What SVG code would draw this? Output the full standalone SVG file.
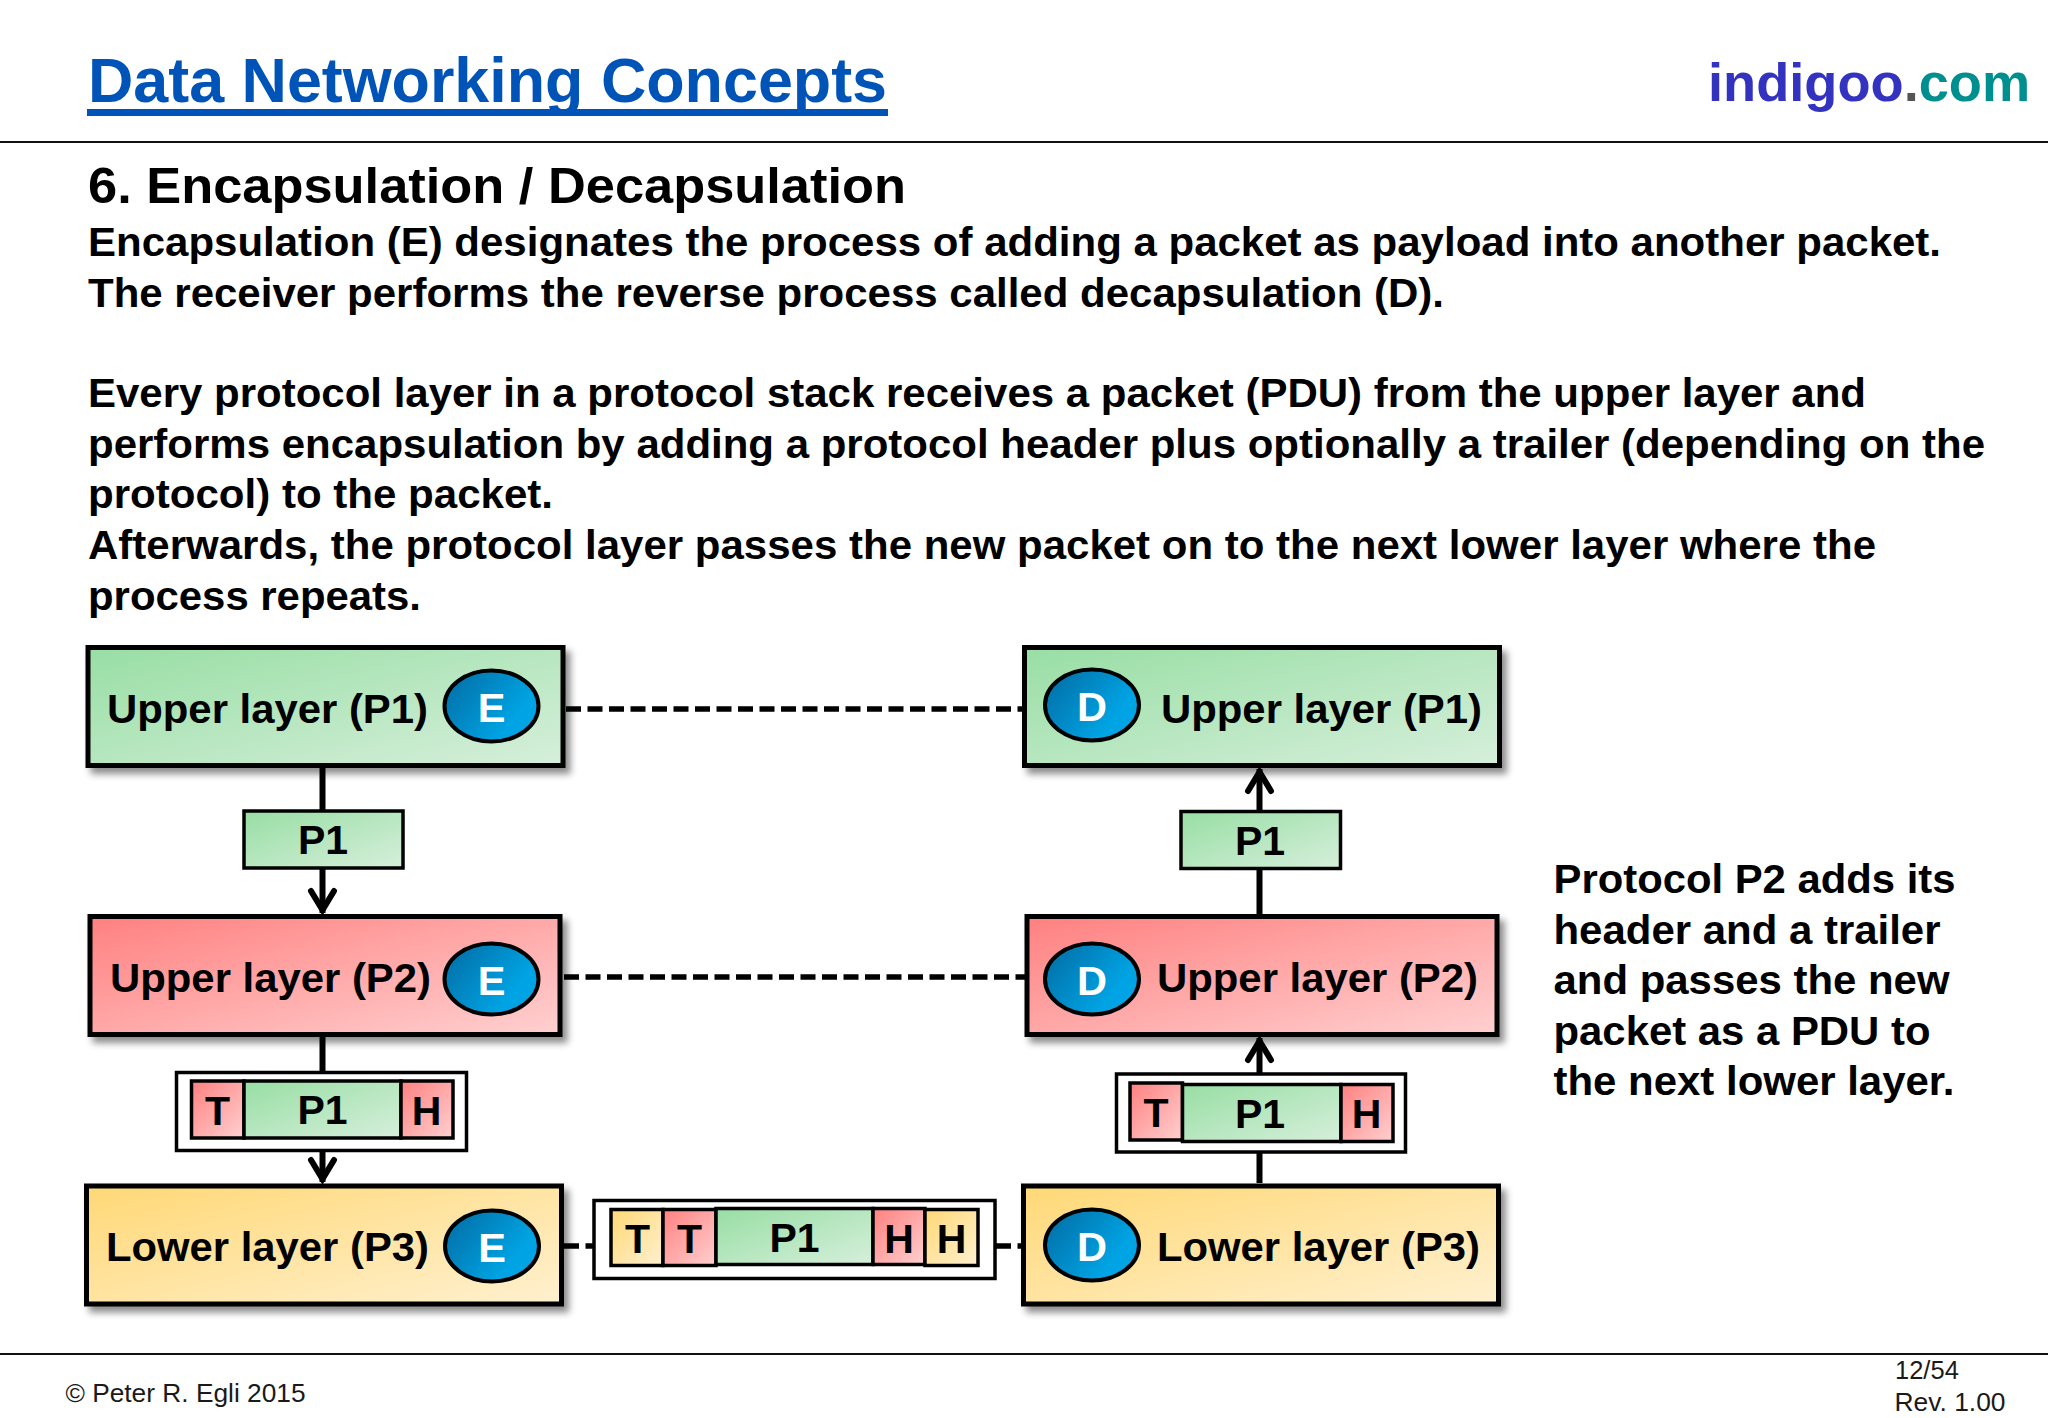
<svg xmlns="http://www.w3.org/2000/svg" width="2048" height="1418" viewBox="0 0 2048 1418">
<style>
text{font-family:"Liberation Sans",Arial,sans-serif;font-weight:700;fill:#000}
.body{font-size:41.5px}
.lay{font-size:41.5px}
.op{font-size:41.5px;fill:#fff;text-anchor:middle}
.pk{font-size:41px;text-anchor:middle}
.box{stroke:#000;stroke-width:5;filter:url(#sh)}
.sm{stroke:#000;stroke-width:3.5}
.out{fill:#fff;stroke:#000;stroke-width:3.5}
.circ{fill:url(#blue);stroke:#000;stroke-width:4}
.con{stroke:#000;stroke-width:6;fill:none}
.dash{stroke:#000;stroke-width:5.5;fill:none;stroke-dasharray:15 6.5}
.foot{font-weight:400;font-size:25.5px;fill:#1a1a1a}
</style>
<defs>
<linearGradient id="g" x1="0" y1="0" x2="1" y2="1"><stop offset="0" stop-color="#98dea4"/><stop offset="1" stop-color="#d6efdb"/></linearGradient>
<linearGradient id="r" x1="0" y1="0" x2="1" y2="1"><stop offset="0" stop-color="#ff8080"/><stop offset="1" stop-color="#ffd0d0"/></linearGradient>
<linearGradient id="y" x1="0" y1="0" x2="1" y2="1"><stop offset="0" stop-color="#ffd876"/><stop offset="1" stop-color="#fff0cf"/></linearGradient>
<linearGradient id="blue" x1="0" y1="0.2" x2="1" y2="0.8"><stop offset="0" stop-color="#0270a8"/><stop offset="0.75" stop-color="#00a3e3"/></linearGradient>
<filter id="sh" x="-5%" y="-10%" width="112%" height="125%"><feDropShadow dx="5" dy="6" stdDeviation="3.5" flood-color="#000" flood-opacity="0.45"/></filter>
<marker id="ah" markerUnits="userSpaceOnUse" viewBox="-30 -18 32 36" refX="0" refY="0" markerWidth="32" markerHeight="36" orient="auto"><path d="M-22 -11.5L-3 0L-22 11.5" fill="none" stroke="#000" stroke-width="6" stroke-linecap="round"/></marker>
</defs>
<rect width="2048" height="1418" fill="#fff"/>

<g id="header">
<text x="88" y="102" font-size="63" style="fill:#0054b8" textLength="799" lengthAdjust="spacingAndGlyphs">Data Networking Concepts</text>
<rect x="87" y="109" width="801" height="7" fill="#0054b8"/>
<text x="1708" y="101" font-size="54.2" style="fill:#3333c0">indigoo<tspan style="fill:#555">.</tspan><tspan style="fill:#008f8f">com</tspan></text>
<line x1="0" y1="142" x2="2048" y2="142" stroke="#111" stroke-width="2"/>
</g>

<g id="body-text">
<text x="88" y="203" font-size="50.5" textLength="818" lengthAdjust="spacingAndGlyphs">6. Encapsulation / Decapsulation</text>
<text class="body" x="88" y="256" textLength="1853" lengthAdjust="spacingAndGlyphs">Encapsulation (E) designates the process of adding a packet as payload into another packet.</text>
<text class="body" x="88" y="307" textLength="1356" lengthAdjust="spacingAndGlyphs">The receiver performs the reverse process called decapsulation (D).</text>
<text class="body" x="88" y="407" textLength="1778" lengthAdjust="spacingAndGlyphs">Every protocol layer in a protocol stack receives a packet (PDU) from the upper layer and</text>
<text class="body" x="88" y="458" textLength="1897" lengthAdjust="spacingAndGlyphs">performs encapsulation by adding a protocol header plus optionally a trailer (depending on the</text>
<text class="body" x="88" y="508" textLength="465" lengthAdjust="spacingAndGlyphs">protocol) to the packet.</text>
<text class="body" x="88" y="559" textLength="1788" lengthAdjust="spacingAndGlyphs">Afterwards, the protocol layer passes the new packet on to the next lower layer where the</text>
<text class="body" x="88" y="610" textLength="333" lengthAdjust="spacingAndGlyphs">process repeats.</text>
</g>

<g id="connectors">
<line class="dash" x1="566" y1="709" x2="1024" y2="709"/>
<line class="dash" x1="564" y1="977" x2="1026" y2="977"/>
<line class="dash" x1="564" y1="1246" x2="594" y2="1246"/>
<line class="dash" x1="996" y1="1246" x2="1023" y2="1246"/>
<line class="con" x1="322.5" y1="768" x2="322.5" y2="810"/>
<line class="con" x1="322.5" y1="869" x2="322.5" y2="913" marker-end="url(#ah)"/>
<line class="con" x1="322.5" y1="1037" x2="322.5" y2="1071"/>
<line class="con" x1="322.5" y1="1152" x2="322.5" y2="1182" marker-end="url(#ah)"/>
<line class="con" x1="1259.5" y1="810" x2="1259.5" y2="769" marker-end="url(#ah)"/>
<line class="con" x1="1259.5" y1="914" x2="1259.5" y2="869"/>
<line class="con" x1="1259.5" y1="1073" x2="1259.5" y2="1038" marker-end="url(#ah)"/>
<line class="con" x1="1259.5" y1="1183" x2="1259.5" y2="1153"/>
</g>

<g id="e-p1"><rect class="box" x="88" y="647.5" width="475" height="118" fill="url(#g)"/><text class="lay" x="107" y="723" textLength="321" lengthAdjust="spacingAndGlyphs">Upper layer (P1)</text><ellipse class="circ" cx="491.5" cy="706" rx="47" ry="35.5"/><text class="op" x="491.5" y="722">E</text></g>
<g id="e-p2"><rect class="box" x="90" y="916.5" width="470" height="118" fill="url(#r)"/><text class="lay" x="110" y="992" textLength="321" lengthAdjust="spacingAndGlyphs">Upper layer (P2)</text><ellipse class="circ" cx="491.5" cy="979" rx="47" ry="35.5"/><text class="op" x="491.5" y="995">E</text></g>
<g id="e-p3"><rect class="box" x="86.5" y="1186" width="475" height="118" fill="url(#y)"/><text class="lay" x="106" y="1261" textLength="323" lengthAdjust="spacingAndGlyphs">Lower layer (P3)</text><ellipse class="circ" cx="492" cy="1246" rx="47" ry="35.5"/><text class="op" x="492" y="1262">E</text></g>

<g id="d-p1"><rect class="box" x="1024.5" y="647.5" width="475" height="118" fill="url(#g)"/><ellipse class="circ" cx="1092" cy="705" rx="47" ry="35.5"/><text class="op" x="1092" y="721">D</text><text class="lay" x="1161" y="723" textLength="321" lengthAdjust="spacingAndGlyphs">Upper layer (P1)</text></g>
<g id="d-p2"><rect class="box" x="1027" y="916.5" width="470" height="118" fill="url(#r)"/><ellipse class="circ" cx="1092" cy="979" rx="47" ry="35.5"/><text class="op" x="1092" y="995">D</text><text class="lay" x="1157" y="992" textLength="321" lengthAdjust="spacingAndGlyphs">Upper layer (P2)</text></g>
<g id="d-p3"><rect class="box" x="1023.5" y="1186" width="475" height="118" fill="url(#y)"/><ellipse class="circ" cx="1092" cy="1245" rx="47" ry="35.5"/><text class="op" x="1092" y="1261">D</text><text class="lay" x="1157" y="1261" textLength="323" lengthAdjust="spacingAndGlyphs">Lower layer (P3)</text></g>

<g id="pdu-left-1"><rect class="sm" x="244" y="811" width="159" height="57" fill="url(#g)"/><text class="pk" x="323" y="854">P1</text></g>
<g id="pdu-right-1"><rect class="sm" x="1181" y="811.5" width="159.5" height="57" fill="url(#g)"/><text class="pk" x="1260" y="855">P1</text></g>

<g id="pdu-left-2">
<rect class="out" x="176.5" y="1072.5" width="290" height="78"/>
<rect class="sm" x="191.5" y="1081" width="52.5" height="57" fill="url(#r)"/>
<rect class="sm" x="244" y="1081" width="157" height="57" fill="url(#g)"/>
<rect class="sm" x="401" y="1081" width="52" height="57" fill="url(#r)"/>
<text class="pk" x="217.5" y="1125">T</text><text class="pk" x="322.5" y="1124">P1</text><text class="pk" x="426.5" y="1125">H</text>
</g>
<g id="pdu-right-2">
<rect class="out" x="1116.5" y="1074" width="289" height="78"/>
<rect class="sm" x="1130" y="1083" width="52.5" height="57" fill="url(#r)"/>
<rect class="sm" x="1182.5" y="1084.5" width="158.5" height="57" fill="url(#g)"/>
<rect class="sm" x="1341" y="1084.5" width="52" height="57" fill="url(#r)"/>
<text class="pk" x="1156" y="1127">T</text><text class="pk" x="1260" y="1128">P1</text><text class="pk" x="1366.5" y="1128">H</text>
</g>
<g id="pdu-middle">
<rect class="out" x="594" y="1200.5" width="401" height="78"/>
<rect class="sm" x="611" y="1209.5" width="52" height="56" fill="url(#y)"/>
<rect class="sm" x="663" y="1209.5" width="53" height="56" fill="url(#r)"/>
<rect class="sm" x="716" y="1208.5" width="157" height="56" fill="url(#g)"/>
<rect class="sm" x="873" y="1208.5" width="52" height="56" fill="url(#r)"/>
<rect class="sm" x="925" y="1209.5" width="53" height="56" fill="url(#y)"/>
<text class="pk" x="637.5" y="1253">T</text><text class="pk" x="689.5" y="1253">T</text><text class="pk" x="794.5" y="1252">P1</text><text class="pk" x="899" y="1253">H</text><text class="pk" x="951.5" y="1253">H</text>
</g>

<g id="note">
<text class="body" x="1553.5" y="893" textLength="402" lengthAdjust="spacingAndGlyphs">Protocol P2 adds its</text>
<text class="body" x="1553.5" y="944" textLength="387" lengthAdjust="spacingAndGlyphs">header and a trailer</text>
<text class="body" x="1553.5" y="994" textLength="396" lengthAdjust="spacingAndGlyphs">and passes the new</text>
<text class="body" x="1553.5" y="1045" textLength="377" lengthAdjust="spacingAndGlyphs">packet as a PDU to</text>
<text class="body" x="1553.5" y="1095" textLength="401" lengthAdjust="spacingAndGlyphs">the next lower layer.</text>
</g>

<g id="footer">
<line x1="0" y1="1354" x2="2048" y2="1354" stroke="#111" stroke-width="2"/>
<text class="foot" x="65.5" y="1402" textLength="240" lengthAdjust="spacingAndGlyphs">© Peter R. Egli 2015</text>
<text class="foot" x="1895" y="1379">12/54</text>
<text class="foot" x="1894.5" y="1411" textLength="111" lengthAdjust="spacingAndGlyphs">Rev. 1.00</text>
</g>
</svg>
